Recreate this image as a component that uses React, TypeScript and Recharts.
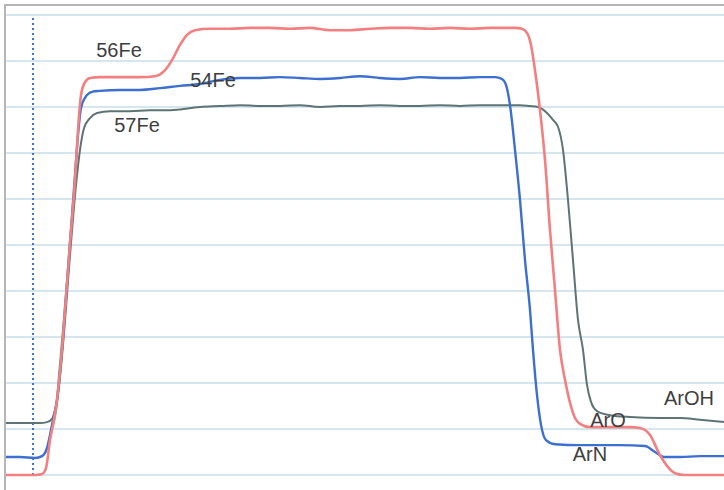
import { LineChart, Line, XAxis, YAxis, CartesianGrid, ReferenceLine, ReferenceDot, Label } from 'recharts'

/* ─── time axis (s) and signal (% of full scale) per isotope ─── */
const fe56Time = [
  0, 14, 29, 36, 40, 44, 47, 51, 57, 64, 69, 72, 75, 79, 84, 94, 114, 134, 149, 159,
  166, 174, 181, 189, 204, 224, 244, 264, 284, 304, 324, 344, 364, 384, 404, 424, 444, 464, 484, 499,
  509, 516, 521, 525, 529, 534, 539, 544, 549, 554, 559, 564, 569, 574, 584, 604, 624, 634, 644, 654,
  662, 669, 679, 694, 718,
]
const fe56Signal = [
  0, 0, 0, 0.2, 1.5, 7.6, 10.9, 16.3, 30.0, 50.4, 64.1, 75.0, 82.6, 85.4, 86.3, 86.5, 86.5, 86.5, 86.7, 88.0,
  90.2, 93.5, 95.7, 96.7, 97.0, 97.0, 97.2, 97.2, 97.0, 97.2, 96.7, 96.7, 97.0, 97.2, 97.2, 97.0, 97.2, 97.0, 97.2, 97.2,
  97.2, 97.0, 96.1, 93.5, 88.0, 79.3, 68.5, 53.3, 40.2, 27.2, 20.7, 15.7, 12.4, 11.1, 10.4, 10.4, 10.4, 10.2, 8.7, 4.3,
  1.7, 0.4, 0, 0, 0,
]

const fe54Time = [
  0, 14, 29, 36, 41, 44, 47, 51, 57, 64, 69, 72, 75, 79, 86, 94, 114, 134, 154, 174,
  194, 214, 234, 254, 274, 294, 314, 334, 354, 374, 394, 414, 434, 454, 474, 489, 496, 500, 504, 509,
  514, 519, 524, 527, 531, 535, 540, 549, 574, 614, 639, 649, 659, 674, 694, 718,
]
const fe54Signal = [
  3.9, 3.9, 3.7, 4.1, 5.9, 8.7, 12.0, 16.3, 30.0, 50.4, 65.2, 73.9, 79.8, 82.0, 83.3, 83.5, 83.7, 83.7, 84.1, 84.6,
  85.0, 85.9, 86.3, 86.3, 86.5, 86.3, 86.1, 86.3, 86.7, 86.3, 86.1, 86.5, 86.3, 86.3, 86.5, 86.5, 86.1, 84.8, 80.4, 70.7,
  59.8, 46.7, 35.9, 27.2, 17.4, 10.9, 7.6, 6.7, 6.5, 6.5, 6.3, 5.0, 3.9, 3.9, 4.1, 4.1,
]

const fe57Time = [
  0, 14, 34, 41, 46, 49, 52, 57, 64, 70, 74, 78, 84, 91, 104, 124, 144, 164, 194, 214,
  234, 254, 274, 294, 314, 334, 354, 374, 394, 414, 434, 454, 474, 494, 514, 524, 532, 541, 547, 552,
  557, 562, 567, 572, 577, 581, 585, 591, 604, 624, 654, 674, 694, 718,
]
const fe57Signal = [
  11.3, 11.3, 11.3, 11.5, 12.2, 14.1, 17.4, 28.3, 47.8, 63.0, 70.7, 75.4, 77.6, 78.7, 79.1, 79.1, 79.3, 79.3, 80.0, 80.2,
  80.4, 80.2, 80.2, 80.4, 80.0, 80.2, 80.2, 80.4, 80.2, 80.2, 80.4, 80.2, 80.4, 80.4, 80.4, 80.2, 80.0, 78.7, 77.2, 75.7,
  70.7, 59.8, 46.7, 33.7, 27.2, 19.6, 15.9, 13.9, 13.0, 12.6, 12.4, 12.4, 12.0, 11.5,
]

const fe58Time = [47, 50, 54, 58, 62, 66, 70]
const fe58Signal = [10.9, 14.1, 23.9, 33.7, 44.6, 55.4, 65.2]

const yTicks = [0, 10, 20, 30, 40, 50, 60, 70, 80, 90, 100]
const startTime = 27

const labels = [
  { text: '56Fe', t: 113, v: 92.4 },
  { text: '54Fe', t: 207, v: 85.9 },
  { text: '57Fe', t: 131, v: 76.1 },
  { text: 'ArOH', t: 683, v: 16.7 },
  { text: 'ArO', t: 602, v: 12.0 },
  { text: 'ArN', t: 584, v: 4.6 },
]

const toRows = (ts: number[], vs: number[]) => ts.map((t, i) => ({ t, v: vs[i] }))

export default function App() {
  return (
    <div style={{ position: 'fixed', left: 0, top: 0, width: 724, height: 490, background: '#fff', overflow: 'hidden' }}>
      <div style={{
        position: 'absolute', left: 4, top: 4, right: -4, bottom: -4,
        borderTop: '2px solid #b6b6b8', borderLeft: '2px solid #b6b6b8',
      }} />
      <LineChart
        width={724} height={490}
        margin={{ top: 15, right: 0, left: 6, bottom: 15 }}
        style={{ position: 'absolute', left: 0, top: 0 }}
      >
        <CartesianGrid vertical={false} horizontalValues={yTicks} stroke="#d6e6ef" strokeWidth={2} />
        <XAxis type="number" dataKey="t" domain={[0, 718]} hide allowDuplicatedCategory={false} />
        <YAxis
          type="number" domain={[0, 100]} ticks={yTicks} width={0}
          tick={{ fill: 'none', fontSize: 1 }} axisLine={false} tickLine={false}
        />
        <ReferenceLine x={startTime} stroke="#3f74d4" strokeWidth={2} strokeDasharray="2 3" />
        <Line data={toRows(fe58Time, fe58Signal)} dataKey="v" type="monotone" stroke="#6cc49c" strokeWidth={2.5} dot={false} isAnimationActive={false} />
        <Line data={toRows(fe57Time, fe57Signal)} dataKey="v" type="monotone" stroke="#5e7474" strokeWidth={2} dot={false} isAnimationActive={false} />
        <Line data={toRows(fe54Time, fe54Signal)} dataKey="v" type="monotone" stroke="#3d6fd0" strokeWidth={2.4} dot={false} isAnimationActive={false} />
        <Line data={toRows(fe56Time, fe56Signal)} dataKey="v" type="monotone" stroke="#f47f80" strokeWidth={2.6} dot={false} isAnimationActive={false} />
        {labels.map((l) => (
          <ReferenceDot key={l.text} x={l.t} y={l.v} r={0} fill="none" stroke="none">
            <Label value={l.text} position="center" fill="#3e3e3e" fontSize={20} fontFamily="'Liberation Sans', Arial, sans-serif" />
          </ReferenceDot>
        ))}
      </LineChart>
    </div>
  )
}
